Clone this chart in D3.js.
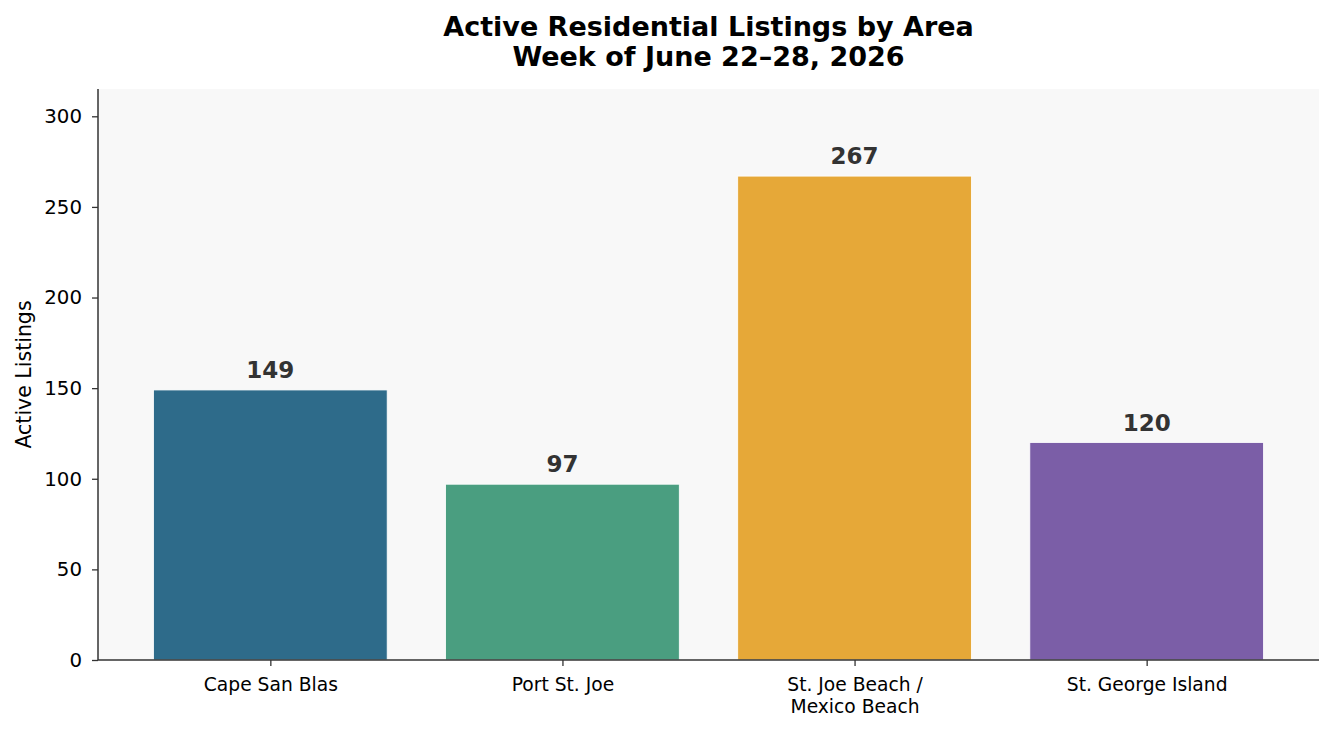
<!DOCTYPE html>
<html>
<head>
<meta charset="utf-8">
<script src="https://cdn.jsdelivr.net/npm/d3@7"></script>
<style>
  html, body { margin: 0; padding: 0; background: #ffffff; }
  svg { display: block; font-family: "DejaVu Sans", sans-serif; }
</style>
</head>
<body>
<svg id="chart" width="1334" height="731"></svg>
<script>
// ---- data ----
const categories = ["Cape San Blas", "Port St. Joe", "St. Joe Beach /\nMexico Beach", "St. George Island"];
const listings = [149, 97, 267, 120];
const barColors = ["#2e6b8a", "#4a9e80", "#e6a838", "#7b5ea7"];
const yTicks = [0, 50, 100, 150, 200, 250, 300];
const titleLines = ["Active Residential Listings by Area", "Week of June 22\u201328, 2026"];
const yLabel = "Active Listings";

// ---- layout ----
const svg = d3.select("#chart");
const plot = { left: 98, right: 1319, top: 89, bottom: 660 };
const barWidth = 0.8;

const x = d3.scaleLinear()
  .domain([-0.4 - 0.19, categories.length - 1 + 0.4 + 0.19])
  .range([plot.left, plot.right]);
const y = d3.scaleLinear()
  .domain([0, d3.max(listings) * 1.18])
  .range([plot.bottom, plot.top]);

// axes background
svg.append("rect")
  .attr("x", plot.left).attr("y", plot.top)
  .attr("width", plot.right - plot.left).attr("height", plot.bottom - plot.top)
  .attr("fill", "#f8f8f8");

// bars
svg.append("g").selectAll("rect")
  .data(listings)
  .join("rect")
  .attr("x", (d, i) => x(i - barWidth / 2))
  .attr("width", (d, i) => x(i + barWidth / 2) - x(i - barWidth / 2))
  .attr("y", d => y(d))
  .attr("height", d => y(0) - y(d))
  .attr("fill", (d, i) => barColors[i])
  .attr("stroke", "#ffffff")
  .attr("stroke-width", 0.8);

// value labels
svg.append("g").selectAll("text")
  .data(listings)
  .join("text")
  .attr("x", (d, i) => x(i))
  .attr("y", d => y(d) - 12)
  .attr("text-anchor", "middle")
  .attr("font-size", "23px")
  .attr("font-weight", "bold")
  .attr("fill", "#333333")
  .text(d => d);

// y axis
const yAxis = svg.append("g")
  .attr("transform", `translate(${plot.left},0)`)
  .call(d3.axisLeft(y).tickValues(yTicks).tickSize(6).tickPadding(10).tickSizeOuter(0));
yAxis.select(".domain").attr("stroke", "#333333").attr("stroke-width", 1.5)
  .attr("d", `M0,${plot.bottom}V${plot.top}`);
yAxis.selectAll(".tick line").attr("stroke", "#333333").attr("stroke-width", 1.3);
yAxis.selectAll(".tick text")
  .attr("font-family", "DejaVu Sans, sans-serif")
  .attr("font-size", "19.8px").attr("fill", "#000000");

// x axis
const xAxis = svg.append("g")
  .attr("transform", `translate(0,${plot.bottom})`)
  .call(d3.axisBottom(x).tickValues(d3.range(categories.length)).tickSize(6).tickPadding(8)
    .tickSizeOuter(0).tickFormat(() => ""));
xAxis.select(".domain").attr("stroke", "#333333").attr("stroke-width", 1.5)
  .attr("d", `M${plot.left},0H${plot.right}`);
xAxis.selectAll(".tick line").attr("stroke", "#333333").attr("stroke-width", 1.3);
xAxis.selectAll(".tick text").each(function(d) {
  const t = d3.select(this)
    .attr("font-family", "DejaVu Sans, sans-serif")
    .attr("font-size", "18.7px").attr("fill", "#000000")
    .attr("y", 0).attr("dy", null);
  const lines = categories[d].split("\n");
  lines.forEach((ln, k) => {
    t.append("tspan").attr("x", 0).attr("y", 31 + k * 22).text(ln);
  });
});

// y label
svg.append("text")
  .attr("transform", `translate(31,${(plot.top + plot.bottom) / 2}) rotate(-90)`)
  .attr("text-anchor", "middle")
  .attr("font-size", "20.5px")
  .attr("fill", "#000000")
  .text(yLabel);

// title
svg.append("g").selectAll("text")
  .data(titleLines)
  .join("text")
  .attr("x", (plot.left + plot.right) / 2)
  .attr("y", (d, i) => 36 + i * 30)
  .attr("text-anchor", "middle")
  .attr("font-size", "27px")
  .attr("font-weight", "bold")
  .attr("fill", "#000000")
  .text(d => d);
</script>
</body>
</html>
